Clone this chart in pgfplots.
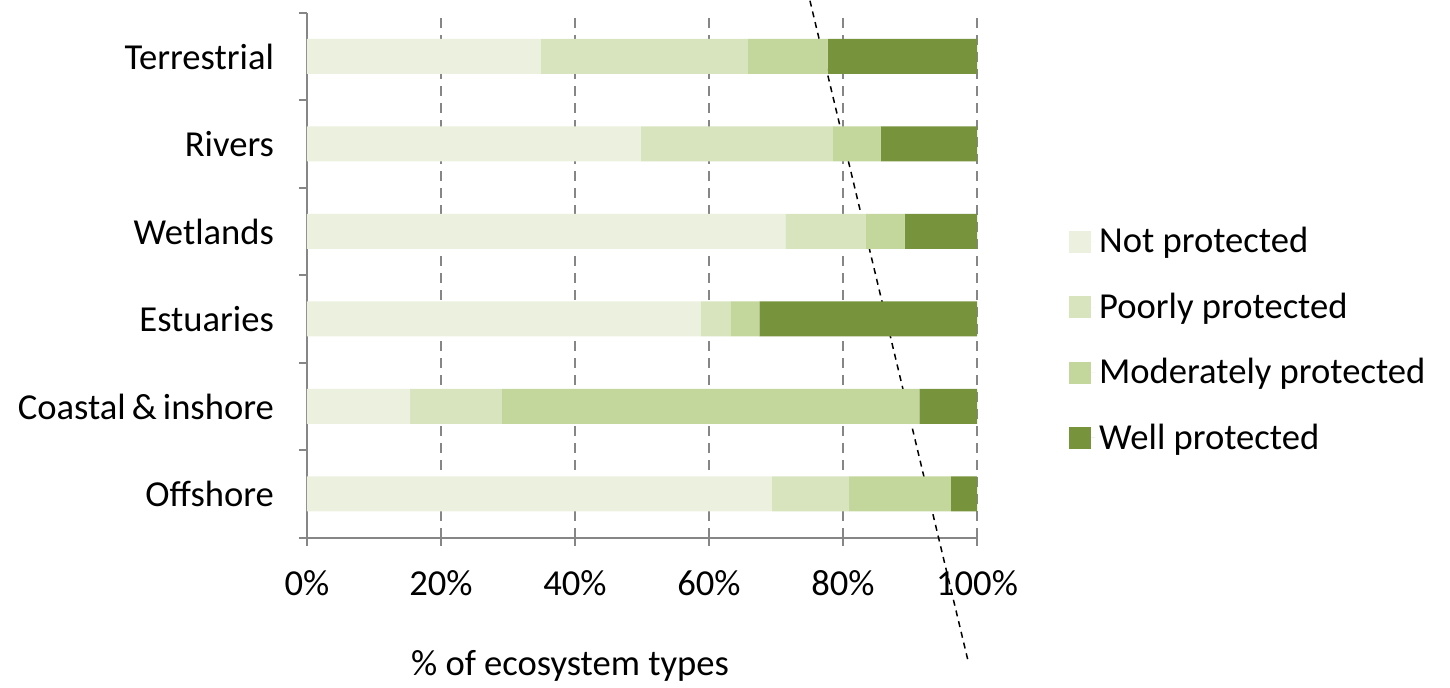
\documentclass[border=0pt]{standalone}
\usepackage{fontspec}
\setmainfont{Carlito}
\usepackage{pgfplots}
\pgfplotsset{compat=1.18}
\definecolor{c1}{HTML}{EBF1DE}
\definecolor{c2}{HTML}{D7E4BD}
\definecolor{c3}{HTML}{C3D69B}
\definecolor{c4}{HTML}{77933C}
\definecolor{axgray}{HTML}{868686}
\begin{document}
\begin{tikzpicture}[font=\fontsize{18.3}{21}\selectfont]
\path (-153.5pt,-74.5pt) rectangle (571.5pt,268.5pt);
\begin{axis}[
  name=ax, at={(0,0)}, anchor=south west,
  scale only axis, width=335pt, height=262.5pt,
  xbar stacked, bar width=0.4,
  xmin=0, xmax=100, ymin=-0.5, ymax=5.5,
  enlargelimits=false, clip=false,
  axis x line*=bottom, axis y line*=left,
  axis line style={axgray, line width=1pt},
  xtick={0,20,...,100},
  xticklabels={0\%,20\%,40\%,60\%,80\%,100\%},
  xticklabel style={yshift=-9pt},
  xmajorgrids,
  grid style={axgray, line width=1pt, dash pattern=on 5pt off 3.5pt},
  ytick={-0.5,0.5,...,5.5},
  yticklabels={},
  extra y ticks={0,1,2,3,4,5},
  extra y tick labels={Offshore,Coastal\,\&\,inshore,Estuaries,Wetlands,Rivers,Terrestrial},
  extra y tick style={major tick length=0pt, yticklabel style={anchor=east, xshift=-13pt}},
  tick align=outside, major tick length=4pt,
  tick style={axgray, line width=1pt},
  xlabel={\% of ecosystem types},
  xlabel style={at={(axis description cs:0.3925,-0.244)}, anchor=center},
  legend style={at={(1.128,0.377)}, anchor=west, draw=none, fill=none,
    row sep=14.5pt, cells={anchor=west}},
  legend image code/.code={\path (0pt,0pt) -- (13pt,0pt); \fill[#1] (0pt,-5.5pt) rectangle (11pt,5.5pt);},
]
\addplot[fill=c1, draw=none] coordinates {(69.4,0) (15.4,1) (58.8,2) (71.4,3) (49.8,4) (34.9,5)};
\addplot[fill=c2, draw=none] coordinates {(11.5,0) (13.7,1) (4.4,2) (12.0,3) (28.6,4) (30.9,5)};
\addplot[fill=c3, draw=none] coordinates {(15.2,0) (62.3,1) (4.3,2) (5.8,3) (7.2,4) (11.9,5)};
\addplot[fill=c4, draw=none] coordinates {(3.9,0) (8.6,1) (32.5,2) (10.8,3) (14.4,4) (22.3,5)};
\legend{Not protected,Poorly protected,Moderately protected,Well protected}
\draw[black, line width=0.75pt, dash pattern=on 3pt off 2.5pt] (axis cs:75.07,5.637) -- (axis cs:98.66,-1.906);
\end{axis}
\end{tikzpicture}
\end{document}
